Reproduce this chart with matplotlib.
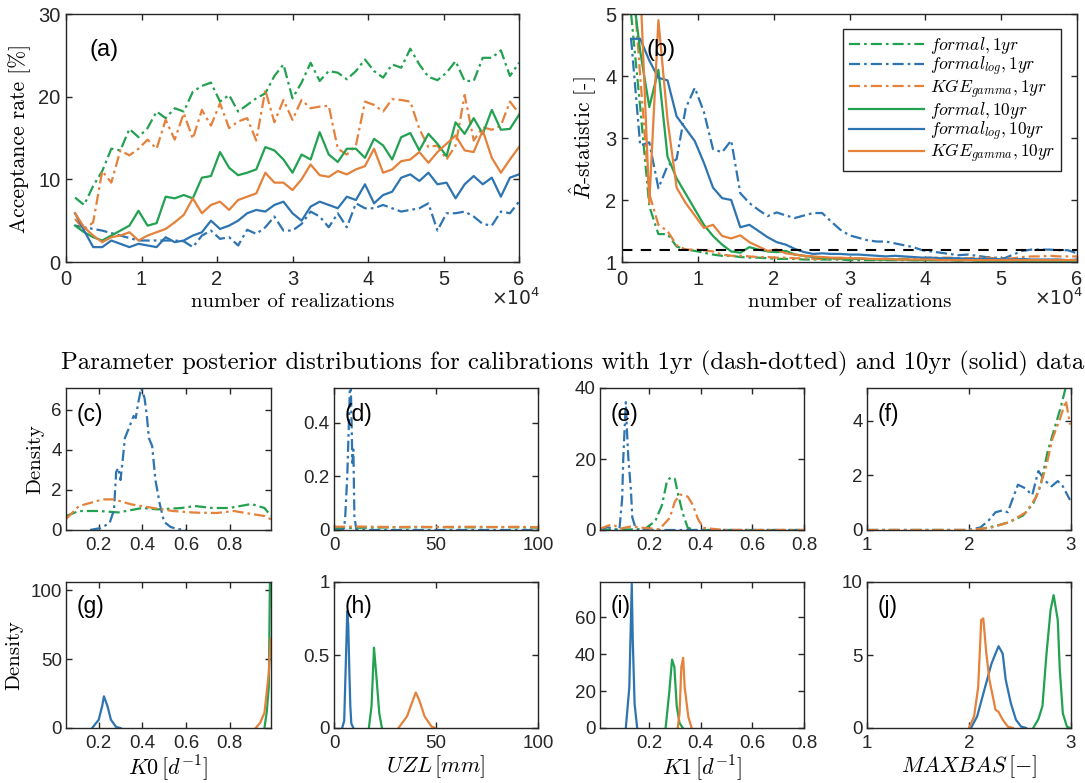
import numpy as np
import matplotlib
matplotlib.use("Agg")
import matplotlib.pyplot as plt

plt.rcParams['mathtext.fontset'] = 'cm'
plt.rcParams['font.family'] = ['Liberation Sans', 'DejaVu Sans']
plt.rcParams['axes.unicode_minus'] = False

# ---------------- colours ----------------
GREEN = '#22a150'
BLUE = '#2e74b0'
ORANGE = '#e4813b'
DD = (0, (5, 1.8, 1.2, 1.8))   # dash-dotted

# ---------------- (a) acceptance rate ----------------
realizations = np.arange(1, 51) * 1200

acc_formal_1yr = [7.8, 6.9, 9.2, 11.0, 13.7, 13.5, 16.1, 15.1, 16.2, 18.2,
                  17.4, 18.6, 18.2, 20.6, 21.3, 21.7, 19.4, 20.2, 18.2, 19.0,
                  19.8, 20.4, 22.5, 23.9, 19.8, 21.7, 24.1, 21.9, 23.1, 22.9,
                  22.1, 23.1, 24.5, 23.1, 22.3, 23.9, 23.5, 25.8, 23.9, 22.4,
                  22.0, 22.9, 24.3, 21.9, 21.9, 24.7, 24.7, 25.6, 22.5, 24.1]
acc_formallog_1yr = [4.4, 4.2, 4.0, 3.8, 3.5, 3.2, 2.9, 2.6, 2.6, 2.6,
                     2.6, 2.6, 2.5, 1.8, 3.2, 3.8, 2.8, 3.0, 2.0, 3.9,
                     3.4, 4.2, 5.5, 3.8, 3.8, 4.6, 6.1, 5.5, 4.2, 5.9,
                     4.2, 7.1, 6.5, 6.5, 6.9, 6.5, 6.1, 6.3, 6.5, 7.1,
                     3.8, 5.9, 5.9, 6.1, 5.5, 4.6, 4.4, 6.1, 5.9, 7.3]
acc_kge_1yr = [5.2, 3.9, 4.8, 11.0, 9.6, 13.5, 12.9, 13.7, 14.8, 13.7,
               17.2, 14.8, 18.0, 14.9, 18.4, 16.5, 19.2, 16.2, 17.0, 17.4,
               14.7, 20.8, 16.9, 19.6, 17.2, 19.6, 18.6, 18.8, 18.9, 13.7,
               13.0, 14.1, 19.4, 19.0, 18.2, 19.7, 19.6, 19.4, 16.1, 13.9,
               14.1, 12.4, 14.1, 20.2, 14.7, 16.3, 16.0, 16.5, 19.4, 18.0]
acc_formal_10yr = [4.4, 3.6, 3.0, 2.6, 3.2, 3.8, 4.4, 6.2, 4.4, 4.7,
                   7.9, 7.7, 8.1, 7.7, 10.2, 10.4, 13.3, 11.4, 10.5, 10.8,
                   11.2, 13.9, 13.5, 12.4, 10.8, 13.0, 12.4, 15.7, 13.0, 12.1,
                   13.7, 13.7, 12.6, 14.9, 14.1, 12.4, 15.1, 15.6, 13.5, 15.5,
                   14.3, 12.8, 16.9, 15.5, 17.4, 15.5, 18.4, 16.0, 16.1, 17.8]
acc_formallog_10yr = [5.9, 3.8, 1.8, 1.8, 2.6, 2.2, 1.8, 2.2, 2.0, 1.8,
                      3.0, 2.4, 2.6, 3.2, 3.6, 5.0, 4.0, 4.4, 5.0, 5.9,
                      6.3, 6.1, 6.9, 7.3, 5.9, 5.0, 6.7, 7.3, 6.9, 6.5,
                      7.9, 7.5, 9.4, 7.1, 8.1, 8.5, 10.2, 10.6, 9.8, 10.8,
                      9.4, 9.6, 7.7, 9.4, 10.4, 9.4, 10.2, 7.9, 10.2, 10.6]
acc_kge_10yr = [5.9, 4.2, 3.2, 2.4, 3.0, 3.2, 3.6, 2.6, 3.2, 3.6,
                4.0, 4.8, 5.7, 7.7, 5.9, 6.9, 7.3, 6.3, 7.5, 7.9,
                8.3, 10.8, 9.6, 9.6, 8.7, 10.0, 11.8, 10.5, 10.3, 11.0,
                10.6, 11.2, 11.6, 13.7, 10.8, 11.2, 12.2, 12.4, 13.3, 12.0,
                13.3, 14.3, 15.3, 13.5, 13.3, 15.9, 12.6, 10.8, 12.4, 13.9]

# ---------------- (b) R-hat ----------------
rhat_formal_1yr = [5.0, 3.5, 1.9, 1.45, 1.45, 1.25, 1.2, 1.18, 1.15, 1.12,
                   1.1, 1.1, 1.08, 1.07, 1.07, 1.06, 1.05, 1.05, 1.05, 1.04,
                   1.04, 1.04, 1.04, 1.04, 1.03, 1.03, 1.03, 1.03, 1.03, 1.03,
                   1.03, 1.03, 1.03, 1.03, 1.03, 1.03, 1.03, 1.03, 1.03, 1.03,
                   1.03, 1.03, 1.03, 1.03, 1.03, 1.03, 1.03, 1.03, 1.03, 1.03]
rhat_formallog_1yr = [4.6, 2.88, 2.93, 2.19, 2.55, 2.66, 3.48, 3.81, 3.42, 2.82,
                      2.77, 2.96, 2.11, 1.95, 1.84, 1.74, 1.80, 1.75, 1.71, 1.75,
                      1.79, 1.79, 1.65, 1.52, 1.43, 1.39, 1.35, 1.33, 1.33, 1.30,
                      1.27, 1.24, 1.19, 1.17, 1.15, 1.13, 1.11, 1.12, 1.10, 1.08,
                      1.07, 1.06, 1.12, 1.18, 1.20, 1.20, 1.20, 1.19, 1.19, 1.14]
rhat_kge_1yr = [6.0, 4.0, 2.1, 1.6, 1.5, 1.27, 1.2, 1.2, 1.19, 1.17,
                1.12, 1.1, 1.1, 1.09, 1.08, 1.08, 1.07, 1.07, 1.06, 1.06,
                1.05, 1.05, 1.05, 1.05, 1.06, 1.06, 1.05, 1.04, 1.04, 1.05,
                1.05, 1.06, 1.06, 1.07, 1.07, 1.07, 1.06, 1.06, 1.07, 1.07,
                1.06, 1.05, 1.06, 1.08, 1.09, 1.09, 1.10, 1.09, 1.09, 1.09]
rhat_formal_10yr = [5.6, 4.4, 3.5, 4.1, 2.7, 2.35, 2.1, 1.85, 1.6, 1.42,
                    1.28, 1.17, 1.15, 1.24, 1.2, 1.17, 1.16, 1.18, 1.12, 1.1,
                    1.08, 1.07, 1.06, 1.06, 1.05, 1.05, 1.05, 1.04, 1.04, 1.04,
                    1.04, 1.03, 1.03, 1.03, 1.03, 1.03, 1.02, 1.03, 1.02, 1.02,
                    1.02, 1.02, 1.02, 1.02, 1.02, 1.02, 1.02, 1.02, 1.02, 1.02]
rhat_formallog_10yr = [4.6, 4.6, 4.25, 3.97, 3.93, 3.35, 3.15, 2.95, 2.6, 2.2,
                       2.03, 2.0, 1.56, 1.6, 1.5, 1.4, 1.32, 1.28, 1.21, 1.16,
                       1.13, 1.14, 1.13, 1.13, 1.12, 1.12, 1.11, 1.10, 1.09, 1.10,
                       1.09, 1.08, 1.07, 1.07, 1.06, 1.06, 1.06, 1.05, 1.05, 1.05,
                       1.05, 1.04, 1.04, 1.05, 1.04, 1.04, 1.04, 1.04, 1.03, 1.04]
rhat_kge_10yr = [6.0, 5.5, 1.95, 4.9, 3.3, 2.2, 1.95, 1.75, 1.55, 1.6,
                 1.42, 1.38, 1.43, 1.32, 1.25, 1.18, 1.2, 1.14, 1.12, 1.1,
                 1.09, 1.08, 1.07, 1.07, 1.06, 1.06, 1.05, 1.05, 1.05, 1.04,
                 1.04, 1.04, 1.04, 1.04, 1.03, 1.03, 1.03, 1.03, 1.03, 1.03,
                 1.03, 1.03, 1.03, 1.03, 1.03, 1.03, 1.03, 1.03, 1.03, 1.03]
rhat_threshold = 1.2

# ---------------- posterior densities, 1yr (dash-dotted) ----------------
c_blue_x = [0.16, 0.21, 0.25, 0.27, 0.28, 0.29, 0.30, 0.31, 0.32, 0.335, 0.36, 0.37,
            0.38, 0.395, 0.41, 0.42, 0.43, 0.445, 0.46, 0.48, 0.50, 0.53, 0.56, 0.60]
c_blue_y = [0.0, 0.1, 0.35, 1.0, 2.9, 3.1, 2.5, 3.5, 4.6, 5.0, 5.7, 5.6,
            6.3, 7.1, 6.6, 5.8, 4.6, 4.2, 2.5, 1.3, 0.4, 0.15, 0.05, 0.0]
c_green_x = [0.05, 0.11, 0.2, 0.29, 0.40, 0.47, 0.58, 0.64, 0.72, 0.80, 0.90, 0.96, 0.99]
c_green_y = [0.7, 0.95, 0.95, 0.88, 1.1, 1.03, 1.1, 1.2, 1.1, 1.1, 1.3, 1.1, 0.7]
c_orange_x = [0.05, 0.11, 0.22, 0.27, 0.35, 0.45, 0.54, 0.64, 0.74, 0.82, 0.90, 0.96, 0.99]
c_orange_y = [0.55, 1.2, 1.53, 1.53, 1.28, 1.1, 0.95, 0.87, 0.85, 0.95, 0.8, 0.7, 0.53]

d_blue_x = [0, 4, 5, 5.5, 6.5, 7.5, 8, 8.5, 9, 9.5, 10, 11, 100]
d_blue_y = [0, 0, 0.01, 0.05, 0.2, 0.45, 0.6, 0.45, 0.25, 0.3, 0.05, 0, 0]
d_green_x = [0, 10, 20, 30, 40, 50, 60, 70, 80, 90, 100]
d_green_y = [0.006, 0.008, 0.009, 0.01, 0.01, 0.011, 0.01, 0.01, 0.011, 0.01, 0.009]
d_orange_x = [0, 10, 20, 30, 40, 50, 60, 70, 80, 90, 100]
d_orange_y = [0.012, 0.013, 0.012, 0.011, 0.012, 0.011, 0.012, 0.012, 0.011, 0.012, 0.01]

e_blue_x = [0.01, 0.04, 0.06, 0.085, 0.096, 0.10, 0.11, 0.115, 0.12, 0.13, 0.135, 0.15, 0.2, 0.8]
e_blue_y = [0.2, 0.8, 0.3, 0.0, 9, 20, 36, 27, 20, 11, 3.6, 0.0, 0.0, 0.0]
e_green_x = [0.01, 0.15, 0.184, 0.224, 0.25, 0.27, 0.285, 0.30, 0.31, 0.33, 0.35, 0.38, 0.8]
e_green_y = [0.0, 0.2, 0.3, 2.5, 7.0, 14.0, 14.8, 14.4, 10.8, 4.8, 0.6, 0.0, 0.0]
e_orange_x = [0.01, 0.04, 0.06, 0.09, 0.13, 0.18, 0.24, 0.28, 0.30, 0.32, 0.35, 0.37,
              0.39, 0.41, 0.49, 0.8]
e_orange_y = [0.3, 1.2, 1.5, 0.4, 1.0, 0.6, 0.2, 3.4, 8.0, 10.0, 9.4, 7.0,
              3.0, 0.6, 0.0, 0.0]

f_blue_x = [1.0, 1.99, 2.11, 2.19, 2.26, 2.33, 2.38, 2.43, 2.48, 2.55, 2.62, 2.68,
            2.75, 2.81, 2.87, 2.92, 2.99]
f_blue_y = [0.0, 0.0, 0.09, 0.34, 0.65, 0.72, 0.65, 1.16, 1.66, 1.53, 1.28, 2.16,
            1.79, 1.6, 1.79, 1.6, 1.1]
f_green_x = [1.0, 2.07, 2.26, 2.39, 2.53, 2.63, 2.70, 2.77, 2.84, 2.90, 2.95, 2.99]
f_green_y = [0.0, 0.0, 0.15, 0.28, 0.53, 0.97, 1.6, 2.86, 3.74, 4.5, 5.25, 5.4]
f_orange_x = [1.0, 2.01, 2.22, 2.39, 2.56, 2.66, 2.75, 2.82, 2.89, 2.95, 2.99]
f_orange_y = [0.0, 0.0, 0.09, 0.28, 0.65, 1.22, 2.23, 3.36, 4.05, 4.74, 3.86]

# ---------------- posterior densities, 10yr (solid) ----------------
g_blue_x = [0.17, 0.20, 0.216, 0.224, 0.24, 0.256, 0.28, 0.30]
g_blue_y = [0.0, 6, 16, 23, 16, 6, 0.7, 0.0]
g_green_x = [0.96, 0.97, 0.98, 0.985]
g_green_y = [0.0, 11, 30, 106]
g_orange_x = [0.92, 0.94, 0.96, 0.98, 0.988]
g_orange_y = [0.0, 3.7, 11, 40, 65]

h_blue_x = [4, 5, 5.5, 6, 6.5, 7, 7.5, 8, 8.5, 9.5]
h_blue_y = [0.0, 0.05, 0.3, 0.55, 0.8, 0.7, 0.4, 0.15, 0.03, 0.0]
h_green_x = [17.1, 18.4, 19.0, 19.6, 20.2, 20.8, 22.2, 23.5]
h_green_y = [0.0, 0.15, 0.35, 0.55, 0.45, 0.35, 0.1, 0.0]
h_orange_x = [31.6, 35.8, 38.4, 40.1, 41.8, 44.4, 47.8, 49.5]
h_orange_y = [0.0, 0.08, 0.18, 0.243, 0.19, 0.08, 0.01, 0.0]

i_blue_x = [0.11, 0.1235, 0.133, 0.137, 0.144, 0.154]
i_blue_y = [0.0, 22, 78, 47, 13, 0.0]
i_green_x = [0.264, 0.278, 0.289, 0.298, 0.307, 0.318, 0.331]
i_green_y = [0.0, 19, 37, 33, 12, 2.7, 0.0]
i_orange_x = [0.311, 0.318, 0.325, 0.332, 0.338, 0.352, 0.365]
i_orange_y = [0.0, 8, 33, 38, 22, 6, 0.0]

j_blue_x = [2.02, 2.08, 2.15, 2.22, 2.26, 2.29, 2.33, 2.36, 2.41, 2.46, 2.51, 2.56]
j_blue_y = [0.0, 0.8, 2.6, 4.4, 5.1, 5.6, 5.1, 3.3, 1.7, 0.57, 0.1, 0.0]
j_green_x = [2.63, 2.68, 2.72, 2.76, 2.80, 2.83, 2.87, 2.89, 2.92, 2.96, 2.99]
j_green_y = [0.0, 0.6, 1.5, 5.1, 8.1, 9.1, 7.4, 4.0, 1.0, 0.1, 0.0]
j_orange_x = [2.0, 2.05, 2.09, 2.12, 2.14, 2.17, 2.2, 2.26, 2.29, 2.33, 2.38, 2.43]
j_orange_y = [0.0, 0.8, 2.8, 7.4, 7.5, 5.1, 3.3, 1.25, 1.1, 0.57, 0.1, 0.0]

# ================================
# figure
# ================================
fig = plt.figure(figsize=(10.85, 7.83), dpi=100)
W, H = 1085, 783


def add_ax(l, t, r, b):
    return fig.add_axes([l / W, 1 - b / H, (r - l) / W, (b - t) / H])


def style(ax, size, xpad=6, ypad=4):
    ax.tick_params(direction='in', top=True, right=True, length=4, width=1,
                   labelsize=size, colors='#262626', labelcolor='#262626')
    ax.tick_params(axis='x', pad=xpad)
    ax.tick_params(axis='y', pad=ypad)
    for s in ax.spines.values():
        s.set_color('#262626')
        s.set_linewidth(1.0)


SERIF = 'cmr10'
LW = 1.6

# --- (a)
ax_a = add_ax(66, 14, 519, 262)
ax_a.plot(realizations, acc_formal_1yr, color=GREEN, ls=DD, lw=LW)
ax_a.plot(realizations, acc_formallog_1yr, color=BLUE, ls=DD, lw=LW)
ax_a.plot(realizations, acc_kge_1yr, color=ORANGE, ls=DD, lw=LW)
ax_a.plot(realizations, acc_formal_10yr, color=GREEN, lw=LW)
ax_a.plot(realizations, acc_formallog_10yr, color=BLUE, lw=LW)
ax_a.plot(realizations, acc_kge_10yr, color=ORANGE, lw=LW)
ax_a.set_xlim(0, 60000)
ax_a.set_ylim(0, 30)
ax_a.set_xticks(np.arange(0, 60001, 10000))
ax_a.set_xticklabels([str(v) for v in range(7)])
ax_a.set_yticks([0, 10, 20, 30])
style(ax_a, 14.5)
ax_a.set_ylabel('Acceptance rate [%]', family=SERIF, fontsize=15.5, labelpad=5)
ax_a.set_xlabel('number of realizations', family=SERIF, fontsize=15, labelpad=3)
ax_a.text(1.048, -0.148, r'$\times10^{4}$', transform=ax_a.transAxes, fontsize=13.5,
          ha='right', va='center', math_fontfamily='dejavusans', color='#262626')
ax_a.text(0.052, 0.855, '(a)', transform=ax_a.transAxes, fontsize=17, va='center')

# --- (b)
ax_b = add_ax(622, 14, 1077, 262)
lines = []
lines += ax_b.plot(realizations, rhat_formal_1yr, color=GREEN, ls=DD, lw=LW,
                   label=r'$formal, 1yr$')
lines += ax_b.plot(realizations, rhat_formallog_1yr, color=BLUE, ls=DD, lw=LW,
                   label=r'$formal_{log}, 1yr$')
lines += ax_b.plot(realizations, rhat_kge_1yr, color=ORANGE, ls=DD, lw=LW,
                   label=r'$KGE_{gamma}, 1yr$')
lines += ax_b.plot(realizations, rhat_formal_10yr, color=GREEN, lw=LW,
                   label=r'$formal, 10yr$')
lines += ax_b.plot(realizations, rhat_formallog_10yr, color=BLUE, lw=LW,
                   label=r'$formal_{log}, 10yr$')
lines += ax_b.plot(realizations, rhat_kge_10yr, color=ORANGE, lw=LW,
                   label=r'$KGE_{gamma}, 10yr$')
ax_b.axhline(rhat_threshold, color='black', ls=(0, (5, 4)), lw=1.5)
ax_b.set_xlim(0, 60000)
ax_b.set_ylim(1, 5)
ax_b.set_xticks(np.arange(0, 60001, 10000))
ax_b.set_xticklabels([str(v) for v in range(7)])
ax_b.set_yticks([1, 2, 3, 4, 5])
style(ax_b, 14.5)
ax_b.set_ylabel(r'$\hat{R}$-statistic [-]', family=SERIF, fontsize=15.5, labelpad=5)
ax_b.set_xlabel('number of realizations', family=SERIF, fontsize=15, labelpad=3)
ax_b.text(1.015, -0.148, r'$\times10^{4}$', transform=ax_b.transAxes, fontsize=13.5,
          ha='right', va='center', math_fontfamily='dejavusans', color='#262626')
ax_b.text(0.053, 0.855, '(b)', transform=ax_b.transAxes, fontsize=17, va='center')
leg = ax_b.legend(handles=lines, loc='upper right', bbox_to_anchor=(0.985, 0.975),
                  fontsize=12.5, handlelength=4.3, labelspacing=-0.05,
                  borderpad=0.35, handletextpad=0.35, fancybox=False,
                  framealpha=1, edgecolor='#262626')
leg.get_frame().set_linewidth(1.0)

fig.text(61 / W, 1 - 363 / H,
         'Parameter posterior distributions for calibrations with 1yr (dash-dotted) '
         'and 10yr (solid) data', family=SERIF, fontsize=17.8, ha='left', va='center')

# --- posterior panels
cols = [(66, 271), (334, 538), (600, 804), (867, 1071)]
row1 = (388, 530)
row2 = (582, 728)

panels_top = [
    ('(c)', [(c_green_x, c_green_y, GREEN), (c_blue_x, c_blue_y, BLUE),
             (c_orange_x, c_orange_y, ORANGE)], (0.05, 0.99), (0, 7.1), [0, 2, 4, 6],
     [0.2, 0.4, 0.6, 0.8]),
    ('(d)', [(d_green_x, d_green_y, GREEN), (d_blue_x, d_blue_y, BLUE),
             (d_orange_x, d_orange_y, ORANGE)], (0, 100), (0, 0.53), [0, 0.2, 0.4],
     [0, 50, 100]),
    ('(e)', [(e_green_x, e_green_y, GREEN), (e_blue_x, e_blue_y, BLUE),
             (e_orange_x, e_orange_y, ORANGE)], (0.01, 0.8), (0, 40), [0, 20, 40],
     [0.2, 0.4, 0.6, 0.8]),
    ('(f)', [(f_blue_x, f_blue_y, BLUE), (f_green_x, f_green_y, GREEN),
             (f_orange_x, f_orange_y, ORANGE)], (1, 3), (0, 5.2), [0, 2, 4],
     [1, 2, 3]),
]
panels_bot = [
    ('(g)', [(g_blue_x, g_blue_y, BLUE), (g_green_x, g_green_y, GREEN),
             (g_orange_x, g_orange_y, ORANGE)], (0.05, 0.99), (0, 106), [0, 50, 100],
     [0.2, 0.4, 0.6, 0.8], r'$K0\,[d^{-1}]$'),
    ('(h)', [(h_blue_x, h_blue_y, BLUE), (h_green_x, h_green_y, GREEN),
             (h_orange_x, h_orange_y, ORANGE)], (0, 100), (0, 1), [0, 0.5, 1],
     [0, 50, 100], r'$UZL\,[mm]$'),
    ('(i)', [(i_blue_x, i_blue_y, BLUE), (i_green_x, i_green_y, GREEN),
             (i_orange_x, i_orange_y, ORANGE)], (0.01, 0.8), (0, 79), [0, 20, 40, 60],
     [0.2, 0.4, 0.6, 0.8], r'$K1\,[d^{-1}]$'),
    ('(j)', [(j_blue_x, j_blue_y, BLUE), (j_green_x, j_green_y, GREEN),
             (j_orange_x, j_orange_y, ORANGE)], (1, 3), (0, 10), [0, 5, 10],
     [1, 2, 3], r'$MAXBAS\,[-]$'),
]


def fmt(v):
    return ('%g' % v)


for k, (lab, curves, xl, yl, yt, xt) in enumerate(panels_top):
    ax = add_ax(cols[k][0], row1[0], cols[k][1], row1[1])
    for x, y, c in curves:
        ax.plot(x, y, color=c, ls=DD, lw=LW)
    ax.set_xlim(*xl)
    ax.set_ylim(*yl)
    ax.set_yticks(yt)
    ax.set_xticks(xt)
    ax.set_yticklabels([fmt(v) for v in yt])
    ax.set_xticklabels([fmt(v) for v in xt])
    style(ax, 13.5, xpad=5, ypad=3)
    ax.text(0.05, 0.81, lab, transform=ax.transAxes, fontsize=16.5, va='center')
    if k == 0:
        ax.set_ylabel('Density', family=SERIF, fontsize=15, labelpad=5)

for k, (lab, curves, xl, yl, yt, xt, xlab) in enumerate(panels_bot):
    ax = add_ax(cols[k][0], row2[0], cols[k][1], row2[1])
    for x, y, c in curves:
        ax.plot(x, y, color=c, lw=LW)
    ax.set_xlim(*xl)
    ax.set_ylim(*yl)
    ax.set_yticks(yt)
    ax.set_xticks(xt)
    ax.set_yticklabels([fmt(v) for v in yt])
    ax.set_xticklabels([fmt(v) for v in xt])
    style(ax, 13.5, xpad=5, ypad=3)
    ax.text(0.05, 0.83, lab, transform=ax.transAxes, fontsize=16.5, va='center')
    ax.set_xlabel(xlab, fontsize=16, labelpad=1)
    if k == 0:
        ax.set_ylabel('Density', family=SERIF, fontsize=15, labelpad=5)

fig.savefig('out.png', dpi=100)
